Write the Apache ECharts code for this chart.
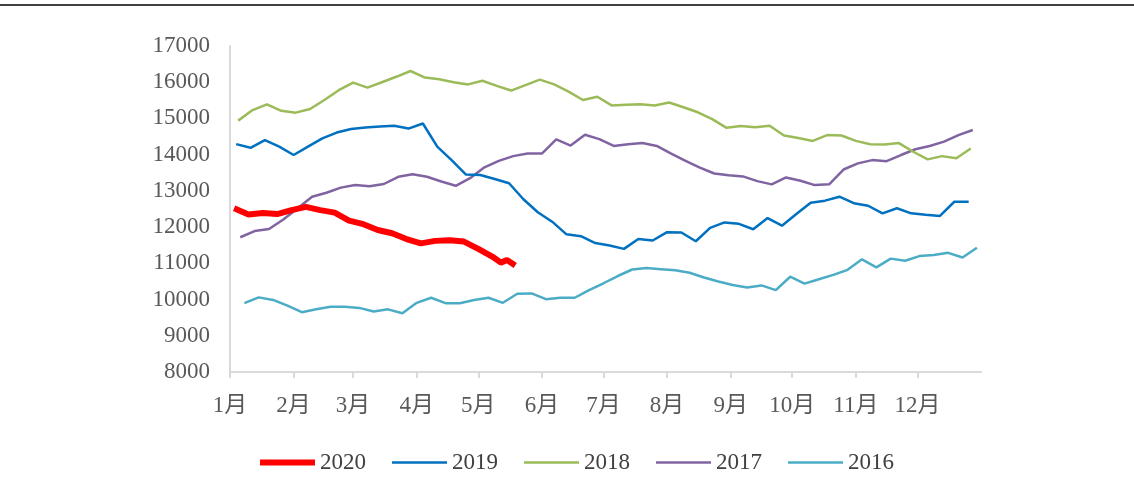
<!DOCTYPE html>
<html>
<head>
<meta charset="utf-8">
<script src="https://cdn.jsdelivr.net/npm/echarts@6/dist/echarts.min.js"></script>
<style>
    html, body { margin: 0; padding: 0; background: #fff; }
    #main { width: 1134px; height: 499px; }
</style>
</head>
<body>
<div id="main"></div>
<script>
    // 年份 / 颜色
    var years = ['2020', '2019', '2018', '2017', '2016'];
    var colors = ['#FF0000', '#0070C0', '#9BBB59', '#8064A2', '#4BACC6'];

    // 各年周度价格（日期为当年第几天，统一映射到同一年份的横轴）
    var days_2020 = [2, 9, 16, 23, 30, 37, 44, 51, 58, 65, 72, 79, 86, 93, 100, 107, 114, 121, 128, 132, 135, 139];
    var val_2020 = [12520, 12350, 12390, 12360, 12470, 12560, 12470, 12400, 12180, 12080, 11920, 11830, 11670, 11550,
        11620, 11640, 11600, 11400, 11180, 11020, 11090, 10940];

    var start_2019 = 3;
    var val_2019 = [14290, 14190, 14400, 14220, 13990, 14220, 14450, 14610, 14710, 14750, 14780, 14800, 14720, 14860,
        14220, 13850, 13450, 13440, 13330, 13210, 12770, 12410, 12150, 11800, 11750, 11560, 11490, 11400, 11670, 11630,
        11860, 11850, 11610, 11980, 12130, 12090, 11940, 12250, 12040, 12360, 12670, 12730, 12840, 12660, 12590, 12380,
        12520, 12380, 12340, 12310, 12700, 12700];

    var start_2018 = 4;
    var val_2018 = [14940, 15230, 15390, 15210, 15160, 15260, 15510, 15780, 15990, 15850, 16000, 16150, 16310, 16130,
        16080, 16000, 15940, 16040, 15900, 15770, 15920, 16070, 15940, 15740, 15510, 15600, 15360, 15380, 15390, 15360,
        15440, 15310, 15170, 14980, 14740, 14790, 14760, 14800, 14530, 14460, 14380, 14540, 14530, 14380, 14290, 14280,
        14320, 14080, 13870, 13960, 13900, 14170];

    var start_2017 = 5;
    var val_2017 = [11720, 11890, 11950, 12210, 12520, 12840, 12950, 13090, 13160, 13130, 13190, 13390, 13460, 13390,
        13260, 13140, 13350, 13650, 13830, 13960, 14030, 14030, 14420, 14250, 14550, 14430, 14240, 14290, 14320, 14240,
        14030, 13830, 13640, 13480, 13430, 13400, 13270, 13180, 13370, 13280, 13160, 13180, 13590, 13760, 13850, 13820,
        13990, 14150, 14240, 14360, 14540, 14680];

    var start_2016 = 7;
    var val_2016 = [9900, 10060, 9990, 9830, 9650, 9730, 9800, 9800, 9770, 9670, 9730, 9620, 9910, 10050,
        9900, 9900, 9990, 10050, 9910, 10160, 10170, 10010, 10050, 10050, 10260, 10450, 10650, 10830, 10870, 10840,
        10810, 10740, 10610, 10500, 10400, 10330, 10390, 10260, 10630, 10440, 10560, 10680, 10820, 11110, 10890, 11130,
        11070, 11200, 11230, 11290, 11160, 11430];

    // 纵轴刻度
    var y_min = 8000, y_max = 17000, y_step = 1000;

    var FONT = "'Liberation Serif', 'Times New Roman', 'Noto Sans CJK SC', serif";

    function toDate(d) {
        return new Date(2020, 0, 1 + d).getTime();
    }

    function weekly(start, vals) {
        var res = [];
        for (var i = 0; i < vals.length; i++) {
            res.push([toDate(start + i * 7), vals[i]]);
        }
        return res;
    }

    function explicitDays(days, vals) {
        var res = [];
        for (var i = 0; i < vals.length; i++) {
            res.push([toDate(days[i]), vals[i]]);
        }
        return res;
    }

    var seriesData = [
        explicitDays(days_2020, val_2020),
        weekly(start_2019, val_2019),
        weekly(start_2018, val_2018),
        weekly(start_2017, val_2017),
        weekly(start_2016, val_2016)
    ];

    var series = [];
    var legendData = [];
    for (var i = years.length - 1; i >= 0; i--) {
        var w = i === 0 ? 6 : 2.5;
        series.push({
            name: years[i],
            type: 'line',
            symbol: 'none',
            data: seriesData[i],
            z: 10 - i,
            lineStyle: {color: colors[i], width: w},
            itemStyle: {color: colors[i]}
        });
    }
    for (var j = 0; j < years.length; j++) {
        var lw = j === 0 ? 6 : 2.5;
        legendData.push({name: years[j], icon: 'path://M0,0H55V' + lw + 'H0Z'});
    }

    var chart = echarts.init(document.getElementById('main'));
    var option = {
        animation: false,
        textStyle: {fontFamily: FONT},
        grid: {left: 230, right: 153, top: 46, bottom: 127},
        legend: {
            data: legendData,
            left: 255,
            top: 446,
            itemWidth: 55,
            itemHeight: 14,
            itemGap: 26,
            textStyle: {fontFamily: FONT, fontSize: 23, color: '#404040'}
        },
        xAxis: {
            type: 'time',
            min: toDate(0),
            max: toDate(366),
            splitNumber: 12,
            minInterval: 28 * 86400000,
            maxInterval: 31 * 86400000,
            axisLine: {lineStyle: {color: '#d9d9d9', width: 2}},
            axisTick: {show: true, length: 6, lineStyle: {color: '#d9d9d9', width: 2}},
            splitLine: {show: false},
            axisLabel: {
                color: '#595959',
                fontFamily: FONT,
                fontSize: 23,
                margin: 22,
                showMaxLabel: false,
                formatter: function (v) {
                    var d = new Date(v);
                    if (d.getFullYear() !== 2020) return '';
                    return (d.getMonth() + 1) + '月';
                }
            }
        },
        yAxis: {
            type: 'value',
            min: y_min,
            max: y_max,
            interval: y_step,
            axisLine: {show: true, lineStyle: {color: '#d9d9d9', width: 2}},
            axisTick: {show: false},
            splitLine: {show: false},
            axisLabel: {
                color: '#595959',
                fontFamily: FONT,
                fontSize: 23,
                margin: 20,
                formatter: function (v) {
                    return String(v);
                }
            }
        },
        graphic: [{
            type: 'line',
            shape: {x1: 0, y1: 5, x2: 1134, y2: 5},
            style: {stroke: '#000', lineWidth: 1.5}
        }],
        series: series
    };
    chart.setOption(option);
</script>
</body>
</html>
